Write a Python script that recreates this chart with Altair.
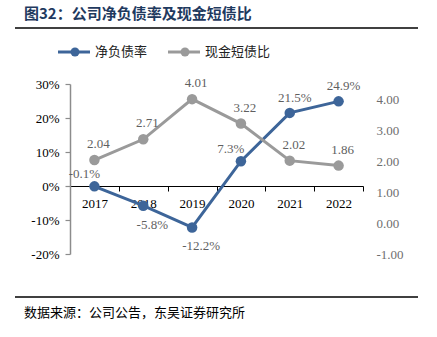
import altair as alt
import pandas as pd

years = ["2017", "2018", "2019", "2020", "2021", "2022"]
net_debt = [-0.1, -5.8, -12.2, 7.3, 21.5, 24.9]
cash_ratio = [2.04, 2.71, 4.01, 3.22, 2.02, 1.86]
net_pos = ["al", "br", "br", "al", "a", "a"]   # label placement keys

title_text = "图32：公司净负债率及现金短债比"
source_text = "数据来源：公司公告，东吴证券研究所"
legend_names = ["净负债率", "现金短债比"]

BLUE = "#3D6599"
GRAY = "#9A9A9A"
LBL = "#5F5F5F"
SERIF = "Liberation Serif"
CJK = "Noto Sans CJK SC"

df = pd.DataFrame({"year": years, "net": net_debt, "cash": cash_ratio, "npos": net_pos})

W, H = 293, 170
xenc = alt.X("year:O", title=None, scale=alt.Scale(paddingInner=0, paddingOuter=0),
             axis=alt.Axis(offset=-68, domainColor="#000000", domainWidth=1.2,
                           tickColor="#000000", tickSize=5, tickBand="extent",
                           labelFont=SERIF, labelFontSize=13, labelColor="#000000",
                           labelAngle=0, labelPadding=6, labelBound=False))

base = alt.Chart(df).encode(x=xenc)
lscale = alt.Scale(domain=[-20, 30], nice=False)
rscale = alt.Scale(domain=[-1, 4.5], nice=False)

yleft = alt.Y("net:Q", title=None, scale=lscale,
              axis=alt.Axis(values=[-20, -10, 0, 10, 20, 30], labelExpr="datum.value + '%'",
                            grid=False, domainColor="#8C8C8C", domainWidth=1.5,
                            tickColor="#8C8C8C", tickSize=5, tickWidth=1.2,
                            labelFont=SERIF, labelFontSize=13, labelColor="#000000",
                            labelPadding=6))
yl2 = alt.Y("net:Q", axis=None, scale=lscale)
yright = alt.Y("cash:Q", title=None, scale=rscale,
               axis=alt.Axis(orient="right", values=[-1, 0, 1, 2, 3, 4],
                             labelExpr="replace(format(datum.value, '.2f'), '\u2212', '-')",
                             grid=False, domain=False, ticks=False,
                             labelFont=SERIF, labelFontSize=13, labelColor="#6E6E6E",
                             labelPadding=13))
yr2 = alt.Y("cash:Q", axis=None, scale=rscale)

lab_style = dict(font=SERIF, fontSize=13, color=LBL)
pct = "datum.net + '%'"

cash_line = base.mark_line(color=GRAY, strokeWidth=3).encode(y=yright)
cash_pts = base.mark_circle(color=GRAY, size=110, opacity=1).encode(y=yr2)
cash_lab = base.transform_calculate(t="format(datum.cash, '.2f')").mark_text(
    dx=4, dy=-16, **lab_style).encode(y=yr2, text="t:N")

net_line = base.mark_line(color=BLUE, strokeWidth=3).encode(y=yleft)
net_pts = base.mark_circle(color=BLUE, size=110, opacity=1).encode(y=yl2)
net_a = base.transform_filter("datum.npos == 'a'").transform_calculate(t=pct).mark_text(
    dx=5, dy=-15, **lab_style).encode(y=yl2, text="t:N")
net_al = base.transform_filter("datum.npos == 'al'").transform_calculate(t=pct).mark_text(
    dx=-10, dy=-12, **lab_style).encode(y=yl2, text="t:N")
net_br = base.transform_filter("datum.npos == 'br'").transform_calculate(t=pct).mark_text(
    dx=9, dy=19, **lab_style).encode(y=yl2, text="t:N")

# decorations: title, rules, legend, source
title = alt.Chart(pd.DataFrame({"t": [title_text]})).mark_text(
    align="left", baseline="middle", font=CJK, fontSize=15, fontWeight="bold", color="#1F3A5F"
).encode(text="t:N", x=alt.value(-46), y=alt.value(-70))
rule1 = alt.Chart(pd.DataFrame({"k": [1]})).mark_rule(color="#000000", strokeWidth=1.5).encode(
    x=alt.value(-55), x2=alt.value(348), y=alt.value(-56))
rule2 = alt.Chart(pd.DataFrame({"k": [1]})).mark_rule(color="#000000", strokeWidth=1.5).encode(
    x=alt.value(-55), x2=alt.value(348), y=alt.value(213))
source = alt.Chart(pd.DataFrame({"t": [source_text]})).mark_text(
    align="left", baseline="middle", font=CJK, fontSize=13, color="#000000"
).encode(text="t:N", x=alt.value(-46), y=alt.value(229))

k = pd.DataFrame({"k": [1]})
leg_blue_line = alt.Chart(k).mark_rule(color=BLUE, strokeWidth=3).encode(
    x=alt.value(-12), x2=alt.value(20), y=alt.value(-32))
leg_blue_dot = alt.Chart(k).mark_circle(color=BLUE, size=80, opacity=1).encode(
    x=alt.value(5), y=alt.value(-32))
leg_blue_txt = alt.Chart(pd.DataFrame({"t": [legend_names[0]]})).mark_text(
    align="left", baseline="middle", font=CJK, fontSize=13, color="#222222").encode(
    text="t:N", x=alt.value(25), y=alt.value(-32))
leg_gray_line = alt.Chart(k).mark_rule(color=GRAY, strokeWidth=3).encode(
    x=alt.value(98), x2=alt.value(130), y=alt.value(-32))
leg_gray_dot = alt.Chart(k).mark_circle(color=GRAY, size=80, opacity=1).encode(
    x=alt.value(115), y=alt.value(-32))
leg_gray_txt = alt.Chart(pd.DataFrame({"t": [legend_names[1]]})).mark_text(
    align="left", baseline="middle", font=CJK, fontSize=13, color="#222222").encode(
    text="t:N", x=alt.value(135), y=alt.value(-32))

chart = alt.layer(
    net_line, cash_line, cash_pts, cash_lab, net_pts, net_a, net_al, net_br,
    title, rule1, rule2, source,
    leg_blue_line, leg_blue_dot, leg_blue_txt,
    leg_gray_line, leg_gray_dot, leg_gray_txt,
).resolve_scale(y="independent").properties(
    width=W, height=H,
    autosize=alt.AutoSizeParams(type="none"),
    padding={"left": 70, "top": 84, "right": 74, "bottom": 83},
    background="#ffffff",
).configure_view(stroke=None)

chart.save("out.html", embed_options={"renderer": "svg", "actions": False})
